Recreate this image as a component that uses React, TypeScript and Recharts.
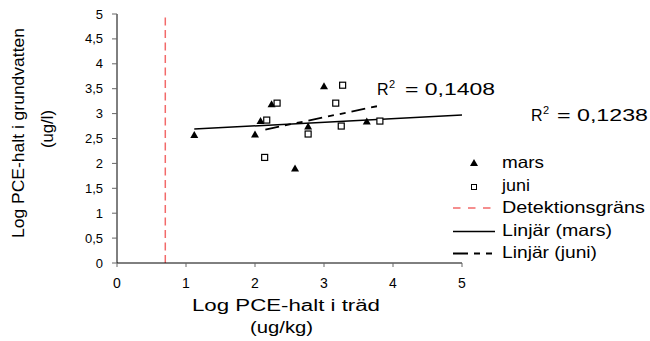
import React from 'react';
import {
  ComposedChart,
  Scatter,
  Line,
  XAxis,
  YAxis,
  ReferenceLine,
} from 'recharts';

// values (log units)
const marsX = [1.12, 2.0, 2.08, 2.24, 2.58, 2.77, 3.0, 3.62];
const marsY = [2.57, 2.58, 2.85, 3.19, 1.9, 2.74, 3.55, 2.84];
const juniX = [2.14, 2.17, 2.32, 2.77, 3.17, 3.25, 3.27, 3.81];
const juniY = [2.12, 2.87, 3.21, 2.59, 3.21, 2.75, 3.57, 2.85];

const marsTrendX = [1.12, 5];
const marsTrendY = [2.69, 2.97];
const juniTrendX = [2.15, 3.81];
const juniTrendY = [2.68, 3.16];

const detectionLimit = 0.7;

const xTicks = [0, 1, 2, 3, 4, 5];
const yTicks = [0, 0.5, 1, 1.5, 2, 2.5, 3, 3.5, 4, 4.5, 5];

const legendLabels = ['mars', 'juni', 'Detektionsgräns', 'Linjär (mars)', 'Linjär (juni)'];
const r2Juni = '0,1408';
const r2Mars = '0,1238';

const FONT = '"Liberation Sans", Arial, sans-serif';
const W = 650;
const H = 341;

const toPoints = (xs: number[], ys: number[]) => xs.map((x, i) => ({ x, y: ys[i] }));

const marsPts = toPoints(marsX, marsY);
const juniPts = toPoints(juniX, juniY);
const marsTrend = toPoints(marsTrendX, marsTrendY);
const juniTrend = toPoints(juniTrendX, juniTrendY);

const JUNI_DASH = '14 6 6 6 6 6';

function Triangle({ cx, cy }: any) {
  if (cx == null || cy == null) return null;
  return (
    <polygon
      points={`${cx - 4},${cy + 3} ${cx + 4},${cy + 3} ${cx},${cy - 4}`}
      fill="#000"
    />
  );
}

function Square({ cx, cy }: any) {
  if (cx == null || cy == null) return null;
  return (
    <rect x={cx - 3} y={cy - 3} width={6} height={6} fill="#fff" stroke="#000" strokeWidth={1.2} />
  );
}

function YTick({ x, y, payload }: any) {
  return (
    <text x={x} y={y} dy="0.35em" textAnchor="end" fontSize={13} fontFamily={FONT} fill="#000">
      {String(payload.value).replace('.', ',')}
    </text>
  );
}

function XTick({ x, payload }: any) {
  return (
    <text x={x} y={287.5} textAnchor="middle" fontSize={14} fontFamily={FONT} fill="#000">
      {payload.value}
    </text>
  );
}

function Overlay() {
  const rows = [168, 190.5, 213, 235.5, 257.5];
  const widths = [42, 28, 143, 110, 95];
  return (
    <svg
      width={W}
      height={H}
      style={{ position: 'absolute', left: 0, top: 0, pointerEvents: 'none' }}
      fontFamily={FONT}
    >
      {/* y axis title */}
      <text
        x={24}
        y={133}
        transform="rotate(-90, 24, 133)"
        textAnchor="middle"
        fontSize={16}
        textLength={210}
        lengthAdjust="spacingAndGlyphs"
      >
        Log PCE-halt i grundvatten
      </text>
      <text
        x={53}
        y={129}
        transform="rotate(-90, 53, 129)"
        textAnchor="middle"
        fontSize={16}
        textLength={38}
        lengthAdjust="spacingAndGlyphs"
      >
        (ug/l)
      </text>

      {/* x axis title */}
      <text x={192} y={311} fontSize={16} textLength={188} lengthAdjust="spacingAndGlyphs">
        Log PCE-halt i träd
      </text>
      <text x={250} y={333} fontSize={16} textLength={63} lengthAdjust="spacingAndGlyphs">
        (ug/kg)
      </text>

      {/* R squared labels */}
      <text x={377} y={95} fontSize={16}>R</text>
      <text x={389} y={88} fontSize={11}>2</text>
      <text x={405} y={95} fontSize={16} textLength={90} lengthAdjust="spacingAndGlyphs">
        {`= ${r2Juni}`}
      </text>
      <text x={531} y={121} fontSize={16}>R</text>
      <text x={543} y={114} fontSize={11}>2</text>
      <text x={557} y={121} fontSize={16} textLength={91} lengthAdjust="spacingAndGlyphs">
        {`= ${r2Mars}`}
      </text>

      {/* legend */}
      <Triangle cx={474} cy={rows[0] - 5} />
      <rect x={471.5} y={rows[1] - 6} width={5} height={5} fill="#fff" stroke="#000" strokeWidth={1} />
      <line x1={453} x2={492} y1={rows[2] - 5} y2={rows[2] - 5} stroke="#f26a6a" strokeWidth={1.3} strokeDasharray="7.5 7.5" />
      <line x1={453} x2={495} y1={rows[3] - 4} y2={rows[3] - 4} stroke="#000" strokeWidth={1.5} />
      <line x1={453} x2={496} y1={rows[4] - 4} y2={rows[4] - 4} stroke="#000" strokeWidth={2} strokeDasharray="15 6 6 6 6 6" />
      {legendLabels.map((label, i) => (
        <text
          key={label}
          x={502}
          y={rows[i]}
          fontSize={16.5}
          textLength={widths[i]}
          lengthAdjust="spacingAndGlyphs"
        >
          {label}
        </text>
      ))}
    </svg>
  );
}

export default function App() {
  return (
    <div style={{ position: 'absolute', left: 0, top: 0, width: W, height: H, background: '#fff' }}>
      <ComposedChart
        width={W}
        height={H}
        margin={{ top: 14, right: 188, bottom: 48, left: 0 }}
      >
        <XAxis
          type="number"
          dataKey="x"
          domain={[0, 5]}
          ticks={xTicks}
          height={30}
          axisLine={{ stroke: '#000', strokeWidth: 1 }}
          tickLine={{ stroke: '#666' }}
          tickSize={4}
          tick={<XTick />}
          allowDataOverflow
        />
        <YAxis
          type="number"
          dataKey="y"
          domain={[0, 5]}
          ticks={yTicks}
          width={117}
          axisLine={{ stroke: '#000', strokeWidth: 1 }}
          tickLine={{ stroke: '#666' }}
          tickSize={5}
          tickMargin={9}
          tick={<YTick />}
          interval={0}
          allowDataOverflow
        />
        <ReferenceLine
          x={detectionLimit}
          stroke="#f26a6a"
          strokeWidth={1.5}
          strokeDasharray="8 4.5"
          ifOverflow="extendDomain"
        />
        <Line
          data={marsTrend}
          dataKey="y"
          stroke="#000"
          strokeWidth={1.5}
          dot={false}
          activeDot={false}
          isAnimationActive={false}
        />
        <Line
          data={juniTrend}
          dataKey="y"
          stroke="#000"
          strokeWidth={1.8}
          strokeDasharray={JUNI_DASH}
          dot={false}
          activeDot={false}
          isAnimationActive={false}
        />
        <Scatter data={marsPts} dataKey="y" shape={<Triangle />} isAnimationActive={false} />
        <Scatter data={juniPts} dataKey="y" shape={<Square />} isAnimationActive={false} />
      </ComposedChart>
      <Overlay />
    </div>
  );
}
